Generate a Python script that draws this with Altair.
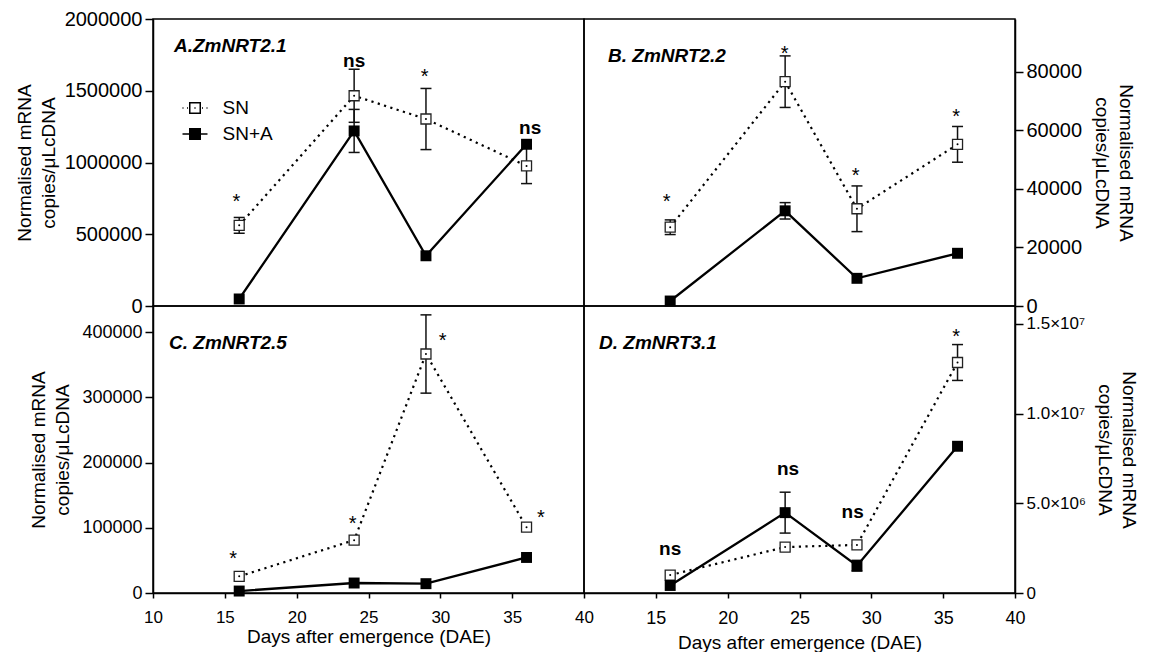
import altair as alt
import pandas as pd

FONT = "Liberation Sans"

days = [16, 24, 29, 36]
series_names = ["SN", "SN+A"]

# Panel A: ZmNRT2.1
a_sn = [562000, 1465000, 1303000, 976000]
a_sn_err = [55000, 185000, 213000, 123000]
a_sna = [49000, 1220000, 350000, 1127000]
a_sna_err = [0, 150000, 0, 0]
a_ann_x = [15.8, 24.0, 28.9, 36.25]
a_ann_y = [683000, 1667000, 1557000, 1196000]
a_ann_t = ["*", "ns", "*", "ns"]

# Panel B: ZmNRT2.2
b_sn = [26900, 76600, 33200, 55200]
b_sn_err = [2500, 8800, 7800, 6100]
b_sna = [1700, 32500, 9450, 18000]
b_sna_err = [0, 2800, 0, 0]
b_ann_x = [15.76, 23.96, 28.9, 35.9]
b_ann_y = [33400, 84050, 42500, 62650]
b_ann_t = ["*", "*", "*", "*"]

# Panel C: ZmNRT2.5
c_sn = [25500, 81000, 366400, 100900]
c_sn_err = [0, 0, 60000, 0]
c_sna = [3000, 15300, 14300, 54500]
c_sna_err = [0, 0, 0, 0]
c_ann_x = [15.57, 23.9, 30.16, 37.0]
c_ann_y = [43560, 96600, 376800, 105200]
c_ann_t = ["*", "*", "*", "*"]

# Panel D: ZmNRT3.1
d_sn = [1000000, 2560000, 2680000, 12850000]
d_sn_err = [0, 0, 0, 1000000]
d_sna = [420000, 4480000, 1520000, 8180000]
d_sna_err = [0, 1140000, 300000, 0]
d_ann_x = [16.0, 24.2, 28.7, 35.9]
d_ann_y = [2130000, 6570000, 4170000, 13950000]
d_ann_t = ["ns", "ns", "ns", "*"]

x_ticks_c = [10, 15, 20, 25, 30, 35, 40]
x_ticks_d = [15, 20, 25, 30, 35, 40]
y_ticks_a = [0, 500000, 1000000, 1500000, 2000000]
y_ticks_b = [0, 20000, 40000, 60000, 80000]
y_ticks_c = [0, 100000, 200000, 300000, 400000]
y_ticks_d = [0, 5000000, 10000000, 15000000]

Y_TITLE = ["Normalised mRNA", "copies/\u03bcLcDNA"]
X_TITLE = "Days after emergence (DAE)"

# legend glyphs (unit-square SVG paths)
SN_PATH = ("M-1,0H-0.92M-0.64,0H-0.56M0.56,0H0.64M0.92,0H1"
           "M-0.42,-0.42H0.42V0.42H-0.42ZM-0.05,0H0.05")
_hatch = "".join(f"M-0.42,{k / 100:.2f}H0.42" for k in range(-42, 43, 7))
SNA_PATH = "M-1,0H1M-0.42,-0.42H0.42V0.42H-0.42Z" + _hatch


def series_df(sn, sn_err, sna, sna_err):
    rows = []
    for name, vals, errs in (("SN", sn, sn_err), ("SN+A", sna, sna_err)):
        for d, v, e in zip(days, vals, errs):
            rows.append({"day": d, "value": v, "lo": v - e, "hi": v + e,
                         "err": e, "series": name})
    return pd.DataFrame(rows)


def ann_df(xs, ys, ts):
    return pd.DataFrame({"day": xs, "value": ys, "label": ts})


def make_panel(df, ann, title, title_dx, ydom, yticks, yorient, ylab_size,
               xticks=None, xlab_size=17, xtitle_pad=4, ylabel_expr=None,
               ytitle_pad=4, legend=False):
    xscale = alt.Scale(domain=[10, 40], nice=False, zero=False)
    yscale = alt.Scale(domain=ydom, nice=False, zero=False)
    if xticks is not None:
        xaxis = alt.Axis(values=xticks, title=X_TITLE, format="d",
                         labelFontSize=xlab_size, titleFontSize=19,
                         tickSize=5, labelPadding=11, titlePadding=xtitle_pad,
                         labelFlush=False, labelOverlap=False)
    else:
        xaxis = None
    yargs = dict(orient=yorient, values=yticks, title=Y_TITLE, format="d",
                 labelFontSize=ylab_size, titleFontSize=19, tickSize=8,
                 labelPadding=3, titlePadding=ytitle_pad, titleLineHeight=24,
                 labelFlush=False, labelOverlap=False)
    if ylabel_expr:
        yargs["labelExpr"] = ylabel_expr
    yaxis = alt.Axis(**yargs)

    def X(field="day"):
        return alt.X(f"{field}:Q", scale=xscale, axis=xaxis)

    def Y(field="value"):
        return alt.Y(f"{field}:Q", scale=yscale, axis=yaxis)

    base = alt.Chart(df)
    errs = base.transform_filter("datum.err > 0")
    err_rule = errs.mark_rule(color="#111", strokeWidth=1.5).encode(
        x=X(), y=Y("lo"), y2="hi:Q")
    cap_lo = errs.mark_tick(color="#111", orient="horizontal", size=11,
                            thickness=1.5, opacity=1).encode(x=X(), y=Y("lo"))
    cap_hi = errs.mark_tick(color="#111", orient="horizontal", size=11,
                            thickness=1.5, opacity=1).encode(x=X(), y=Y("hi"))
    sn = base.transform_filter("datum.series == 'SN'")
    sna = base.transform_filter("datum.series == 'SN+A'")
    line_sn = sn.mark_line(color="black", strokeWidth=2.2,
                           strokeDash=[2.2, 4.4]).encode(x=X(), y=Y())
    line_sna = sna.mark_line(color="black", strokeWidth=2.3).encode(
        x=X(), y=Y())
    pts_sn = sn.mark_square(size=100, filled=True, fill="white",
                            stroke="#222", strokeWidth=1.3,
                            opacity=1).encode(x=X(), y=Y())
    dot_sn = sn.mark_circle(size=4, color="black", opacity=1).encode(
        x=X(), y=Y())
    pts_sna = sna.mark_square(size=120, filled=True, color="black",
                              opacity=1).encode(x=X(), y=Y())
    annb = alt.Chart(ann)
    stars = annb.transform_filter("datum.label == '*'").mark_text(
        font=FONT, fontSize=20, color="black", baseline="alphabetic",
        align="center").encode(x=X(), y=Y(), text="label:N")
    ns = annb.transform_filter("datum.label == 'ns'").mark_text(
        font=FONT, fontSize=19, fontWeight="bold", color="black",
        baseline="alphabetic", align="center").encode(
        x=X(), y=Y(), text="label:N")
    layers = [err_rule, cap_lo, cap_hi, line_sn, line_sna, pts_sn, dot_sn,
              pts_sna, stars, ns]
    if legend:
        leg = alt.Legend(
            orient="none", legendX=28.5, legendY=75.5, title=None,
            labelFontSize=19, labelFont=FONT, labelColor="black",
            symbolSize=625, symbolStrokeColor="black", symbolStrokeWidth=1.5,
            symbolFillColor="white", symbolOpacity=1,
            labelOffset=14, rowPadding=2, padding=0)
        leg_layer = base.transform_filter("false").mark_point(
            filled=False, size=625, opacity=1, color="black",
            strokeWidth=1.5).encode(
            x=X(), y=Y(),
            shape=alt.Shape("series:N", scale=alt.Scale(
                domain=series_names, range=[SN_PATH, SNA_PATH]), legend=leg))
        layers.append(leg_layer)
    return alt.layer(*layers).properties(
        width=431, height=287,
        title=alt.TitleParams(text=title, anchor="start", orient="top",
                              frame="group", offset=-62, dx=title_dx,
                              font=FONT, fontSize=19, fontWeight="bold",
                              fontStyle="italic", baseline="alphabetic",
                              color="black"))


pA = make_panel(series_df(a_sn, a_sn_err, a_sna, a_sna_err),
                ann_df(a_ann_x, a_ann_y, a_ann_t), "A.ZmNRT2.1", 21,
                [0, 2000000], y_ticks_a, "left", 20, ytitle_pad=6,
                legend=True)
pB = make_panel(series_df(b_sn, b_sn_err, b_sna, b_sna_err),
                ann_df(b_ann_x, b_ann_y, b_ann_t), "B. ZmNRT2.2", 24,
                [0, 98000], y_ticks_b, "right", 20, ytitle_pad=10)
pC = make_panel(series_df(c_sn, c_sn_err, c_sna, c_sna_err),
                ann_df(c_ann_x, c_ann_y, c_ann_t), "C. ZmNRT2.5", 16,
                [0, 440000], y_ticks_c, "left", 18, xticks=x_ticks_c,
                xlab_size=17, xtitle_pad=2, ytitle_pad=9)
d_expr = ("datum.value == 0 ? '0' : (datum.value >= 10000000 ? "
          "format(datum.value / 10000000, '.1f') + '\u00d710\u2077' : "
          "format(datum.value / 1000000, '.1f') + '\u00d710\u2076')")
pD = make_panel(series_df(d_sn, d_sn_err, d_sna, d_sna_err),
                ann_df(d_ann_x, d_ann_y, d_ann_t), "D. ZmNRT3.1", 15,
                [0, 16000000], y_ticks_d, "right", 17, xticks=x_ticks_d,
                xlab_size=18, xtitle_pad=6, ylabel_expr=d_expr,
                ytitle_pad=9)

chart = alt.concat(pA, pB, pC, pD, columns=2, spacing=0, bounds="flush"
                   ).resolve_scale(
    x="independent", y="independent", shape="independent"
).configure_view(stroke="black", strokeWidth=1.5
).configure_axis(
    domainColor="black", domainWidth=1.5, tickColor="black", tickWidth=1.5,
    labelColor="black", titleColor="black", grid=False, labelFont=FONT,
    titleFont=FONT, titleFontWeight="normal"
).properties(padding={"left": 6, "top": 0, "right": 5, "bottom": 0},
             background="white")

chart.save("out.html", embed_options={"renderer": "svg", "actions": False})
